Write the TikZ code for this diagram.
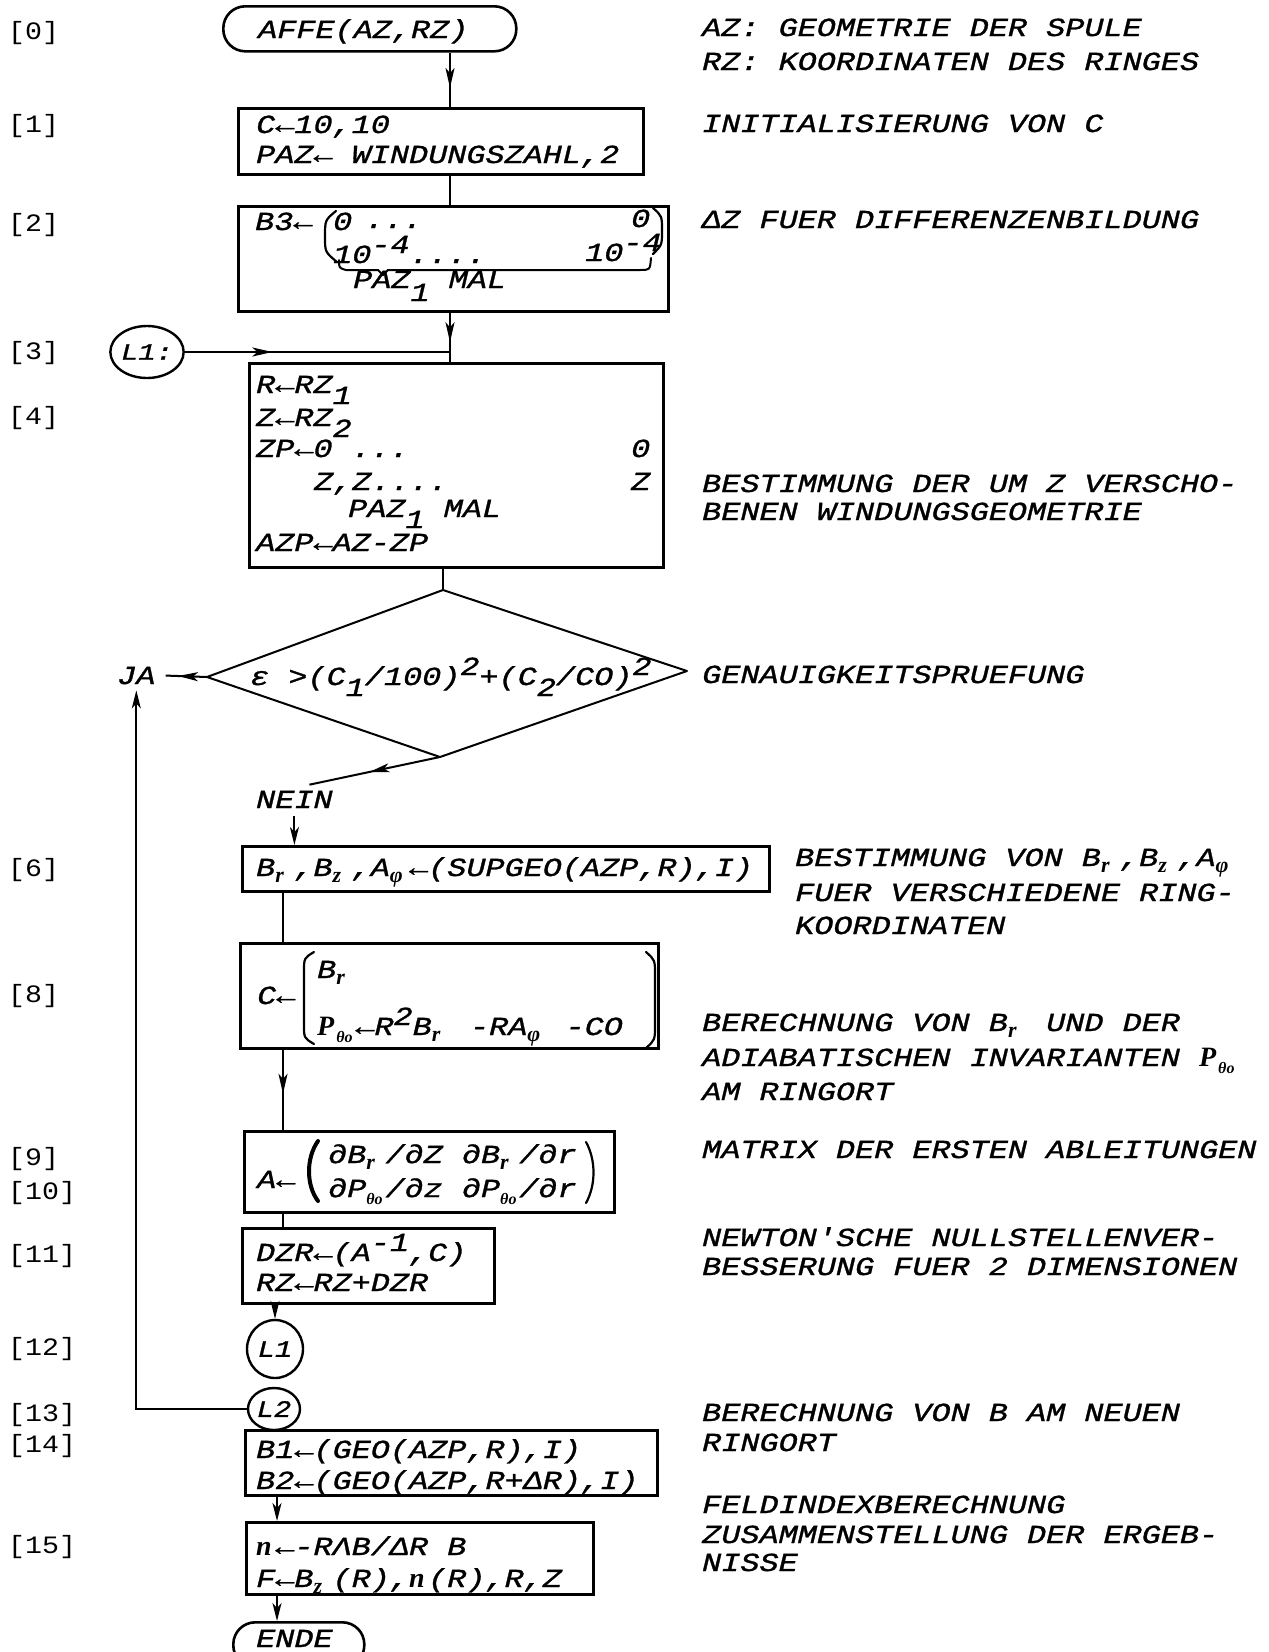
\documentclass[tikz,border=0pt]{standalone}
\usepackage{fontspec}
\usetikzlibrary{shapes.geometric,arrows.meta,decorations.markings}
\newfontfamily\twfam{Liberation Mono}[FakeStretch=1.225,FakeBold=1.2]
\newfontfamily\labfam{Liberation Mono}[FakeStretch=1.13]
\newfontfamily\hwfam{Liberation Serif}
\newcommand\twf{\twfam\itshape\fontsize{26}{31}\selectfont}
\newcommand\circf{\twfam\itshape\fontsize{23.5}{28}\selectfont}
\newcommand\labf{\labfam\fontsize{25}{30}\selectfont}
\newcommand\hwf{\hwfam\bfseries\itshape\fontsize{22}{22}\selectfont}
\newcommand\hwsf{\hwfam\bfseries\itshape\fontsize{16}{16}\selectfont}
\newcommand\tdn[1]{\raisebox{-11pt}{#1}}
\newcommand\tup[1]{\raisebox{10pt}{#1}}
\newcommand\hsub[1]{\makebox[19.1pt][l]{\raisebox{-6pt}{\hwf #1}}}
\newcommand\hsubs[1]{\makebox[19.1pt][l]{\raisebox{-7pt}{\hwsf #1}}}
\newcommand\hwbig[1]{\makebox[19.1pt][l]{\hwfam\bfseries\itshape\fontsize{28}{30}\selectfont #1}}
\begin{document}
\begin{tikzpicture}[x=1pt,y=-1pt,
  box/.style={draw,line width=2.6pt,inner sep=0pt,anchor=north west},
  term/.style={draw,line width=2.6pt,inner sep=0pt,rounded corners=22pt,anchor=north west},
  circ/.style={draw,ellipse,line width=2.4pt,inner sep=0pt,font=\circf},
  conn/.style={line width=2pt},
  dia/.style={line width=2pt,line join=round},
  hd/.style={line width=2.2pt,line cap=round},
  tx/.style={inner sep=0pt,anchor=base west,font=\twf},
  lab/.style={inner sep=0pt,anchor=base west,font=\labf},
  midarrow/.style={postaction={decorate},decoration={markings,mark=at position #1 with {\arrow{Stealth[length=20pt,width=9pt,inset=5pt]}}}},
  endarrow/.style={-{Stealth[length=18pt,width=9pt,inset=5pt]}}
]
\useasboundingbox (0,0) rectangle (1269,1652);
\fill[white] (0,0) rectangle (1269,1652);
\clip (0,0) rectangle (1269,1652);

% ---------- left line labels ----------
\node[lab] (l0)  at (8,39)   {[0]};
\node[lab] (l1)  at (8,132)  {[1]};
\node[lab] (l2)  at (8,231)  {[2]};
\node[lab] (l3)  at (8,359)  {[3]};
\node[lab] (l4)  at (8,424)  {[4]};
\node[lab] (l6)  at (8,876)  {[6]};
\node[lab] (l8)  at (8,1002) {[8]};
\node[lab] (l9)  at (8,1165) {[9]};
\node[lab] (l10) at (8,1199) {[10]};
\node[lab] (l11) at (8,1262) {[11]};
\node[lab] (l12) at (8,1355) {[12]};
\node[lab] (l13) at (8,1421) {[13]};
\node[lab] (l14) at (8,1452) {[14]};
\node[lab] (l15) at (8,1553) {[15]};

% ---------- start ----------
\node[term, minimum width=293pt, minimum height=45pt] (start) at (222,5) {};
\node[tx] (tstart) at (258,38) {AFFE(AZ,RZ)};

% ---------- box 1 ----------
\node[box, minimum width=405pt, minimum height=66pt] (b1) at (237,107) {};
\node[tx] (t1a) at (256,133) {C←10,10};
\node[tx] (t1b) at (256,163) {PAZ← WINDUNGSZAHL,2};

% ---------- box 2 ----------
\node[box, minimum width=430pt, minimum height=105pt] (b2) at (237,205) {};
\node[tx] (t2a) at (255,230) {B3←};
\node[tx] (t2b) at (333,230) {0};
\node[tx] (t2c) at (365,228) {...};
\node[tx] (t2d) at (631,227) {0};
\node[tx] (t2e) at (333,263) {10\tup{-4}....};
\node[tx] (t2f) at (585,261) {10\tup{-4}};
\node[tx] (t2g) at (353,288) {PAZ\raisebox{-13pt}{1} MAL};
\draw[hd] (336,211) .. controls (325,220) .. (325,237) .. controls (325,252) .. (337,262);
\draw[hd] (653,208) .. controls (662,216) .. (662,231) .. controls (662,245) .. (653,254);
\draw[hd,line width=2pt] (339,260) .. controls (339,268) .. (346,270) -- (378,270) -- (383,275) -- (388,270) -- (640,270) .. controls (650,270) .. (651,258);

% ---------- L1 entry ----------
\node[circ, minimum width=60pt, minimum height=52pt] (L1) at (147,352) {L1:};

% ---------- box 4 ----------
\node[box, minimum width=414pt, minimum height=204pt] (b4) at (248,362) {};
\node[tx] (t4a) at (256,393) {R←RZ\tdn{1}};
\node[tx] (t4b) at (256,426) {Z←RZ\tdn{2}};
\node[tx] (t4c) at (256,457) {ZP←0 ...};
\node[tx] (t4d) at (631,457) {0};
\node[tx] (t4e) at (314,490) {Z,Z....};
\node[tx] (t4f) at (631,490) {Z};
\node[tx] (t4g) at (348,517) {PAZ\tdn{1} MAL};
\node[tx] (t4h) at (256,551) {AZP←AZ-ZP};

% ---------- decision ----------
\coordinate (dt) at (443,590);
\coordinate (dr) at (687,671);
\coordinate (db) at (440,757);
\coordinate (dl) at (207,677);
\draw[dia] (dt) -- (dr) -- (db) -- (dl) -- cycle;
\node[tx] (dtext) at (250,685) {ε >(C\tdn{1}/100)\tup{2}+(C\tdn{2}/CO)\tup{2}};
\node[tx] (JA) at (117,684) {JA};
\node[tx] (NEIN) at (256,808) {NEIN};

% ---------- box 6 ----------
\node[box, minimum width=527pt, minimum height=45pt] (b6) at (241,845) {};
\node[tx] (t6) at (256,876) {B\hsub{r},B\hsub{z},A\hsub{φ}←(SUPGEO(AZP,R),I)};

% ---------- box 8 ----------
\node[box, minimum width=418pt, minimum height=105pt] (b8) at (239,942) {};
\node[tx] (t8a) at (257,1004) {C←};
\node[tx] (t8b) at (317,978) {B\hsub{r}};
\node[tx] (t8c) at (317,1035) {\hwbig{P}\hsubs{θo}←R\tup{2}B\hsub{r} -RA\hsub{φ} -CO};
\draw[hd] (314,952) .. controls (304,958) .. (304,972) -- (304,1025) .. controls (304,1038) .. (314,1044);
\draw[hd] (646,952) .. controls (655,960) .. (655,975) -- (655,1025) .. controls (655,1040) .. (646,1048);

% ---------- box 9 ----------
\node[box, minimum width=370pt, minimum height=81pt] (b9) at (243,1130) {};
\node[tx] (t9a) at (257,1188) {A←};
\node[tx] (t9b) at (328,1163) {∂B\hsub{r}/∂Z ∂B\hsub{r}/∂r};
\node[tx] (t9c) at (328,1197) {∂P\hsubs{θo}/∂z ∂P\hsubs{θo}/∂r};
\draw[hd,line width=4pt] (318,1141) .. controls (306,1158) and (306,1185) .. (318,1201);
\draw[hd] (586,1142) .. controls (596,1160) and (596,1185) .. (586,1203);

% ---------- box 11 ----------
\node[box, minimum width=252pt, minimum height=75pt] (b11) at (241,1227) {};
\node[tx] (t11a) at (256,1261) {DZR←(A\tup{-1},C)};
\node[tx] (t11b) at (256,1291) {RZ←RZ+DZR};

% ---------- connectors L1 / L2 ----------
\node[circ, minimum width=56pt, minimum height=58pt] (L1b) at (275,1349) {L1};
\node[circ, minimum width=52pt, minimum height=42pt] (L2) at (274,1409) {L2};

% ---------- box 14 ----------
\node[box, minimum width=412pt, minimum height=65pt] (b14) at (244,1429) {};
\node[tx] (t14a) at (256,1458) {B1←(GEO(AZP,R),I)};
\node[tx] (t14b) at (256,1489) {B2←(GEO(AZP,R+ΔR),I)};

% ---------- box 15 ----------
\node[box, minimum width=347pt, minimum height=72pt] (b15) at (245,1521) {};
\node[tx] (t15a) at (256,1555) {\hwbig{n}←-RΛB/ΔR B};
\node[tx] (t15b) at (256,1587) {F←B\hsub{z}(R),\hwbig{n}(R),R,Z};

% ---------- end ----------
\node[term, minimum width=131pt, minimum height=45pt] (ende) at (232,1621) {};
\node[tx] (tende) at (256,1647) {ENDE};

% ---------- right-hand comments ----------
\node[tx] (r1)  at (702,36)   {AZ: GEOMETRIE DER SPULE};
\node[tx] (r2)  at (702,70)   {RZ: KOORDINATEN DES RINGES};
\node[tx] (r3)  at (702,132)  {INITIALISIERUNG VON C};
\node[tx] (r4)  at (702,228)  {ΔZ FUER DIFFERENZENBILDUNG};
\node[tx] (r5)  at (702,492)  {BESTIMMUNG DER UM Z VERSCHO-};
\node[tx] (r6)  at (702,520)  {BENEN WINDUNGSGEOMETRIE};
\node[tx] (r7)  at (702,683)  {GENAUIGKEITSPRUEFUNG};
\node[tx] (r8)  at (795,866)  {BESTIMMUNG VON B\hsub{r},B\hsub{z},A\hsub{φ}};
\node[tx] (r9)  at (795,901)  {FUER VERSCHIEDENE RING-};
\node[tx] (r10) at (795,934)  {KOORDINATEN};
\node[tx] (r11) at (702,1031) {BERECHNUNG VON B\hsub{r} UND DER};
\node[tx] (r12) at (702,1066) {ADIABATISCHEN INVARIANTEN \hwbig{P}\hsubs{θo}};
\node[tx] (r13) at (702,1100) {AM RINGORT};
\node[tx] (r14) at (702,1158) {MATRIX DER ERSTEN ABLEITUNGEN};
\node[tx] (r15) at (702,1246) {NEWTON'SCHE NULLSTELLENVER-};
\node[tx] (r16) at (702,1275) {BESSERUNG FUER 2 DIMENSIONEN};
\node[tx] (r17) at (702,1421) {BERECHNUNG VON B AM NEUEN};
\node[tx] (r18) at (702,1451) {RINGORT};
\node[tx] (r19) at (702,1513) {FELDINDEXBERECHNUNG};
\node[tx] (r20) at (702,1543) {ZUSAMMENSTELLUNG DER ERGEB-};
\node[tx] (r21) at (702,1571) {NISSE};

% ---------- flow lines ----------
\coordinate (ctop) at (450,0);
\coordinate (cl) at (283,0);
\coordinate (c2) at (277,0);
\draw[conn, midarrow=0.65] (start.south -| ctop) -- (b1.north -| ctop);
\draw[conn] (b1.south -| ctop) -- (b2.north -| ctop);
\draw[conn, midarrow=0.6] (b2.south -| ctop) -- (b4.north -| ctop);
\draw[conn, midarrow=0.33] (L1.east) -- (L1.east -| ctop);
\draw[conn] (b4.south -| dt) -- (dt);
\draw[conn, midarrow=0.7] (dl) -- ([xshift=10pt]JA.east);
\draw[conn, endarrow] (L2.west) -| ([yshift=-6pt]JA.south);
\draw[conn, midarrow=0.54] (db) -- ([xshift=15pt,yshift=6pt]NEIN.north);
\draw[conn, endarrow, shorten <=8pt] (NEIN.south) -- (NEIN.south |- b6.north);
\draw[conn] (b6.south -| cl) -- (b8.north -| cl);
\draw[conn, midarrow=0.55] (b8.south -| cl) -- (b9.north -| cl);
\draw[conn] (b9.south -| cl) -- (b11.north -| cl);
\draw[conn, endarrow] (b11.south -| L1b) -- (L1b.north);
\draw[conn, endarrow] (b14.south -| c2) -- (b15.north -| c2);
\draw[conn, endarrow] (b15.south -| c2) -- (ende.north -| c2);
\end{tikzpicture}
\end{document}
